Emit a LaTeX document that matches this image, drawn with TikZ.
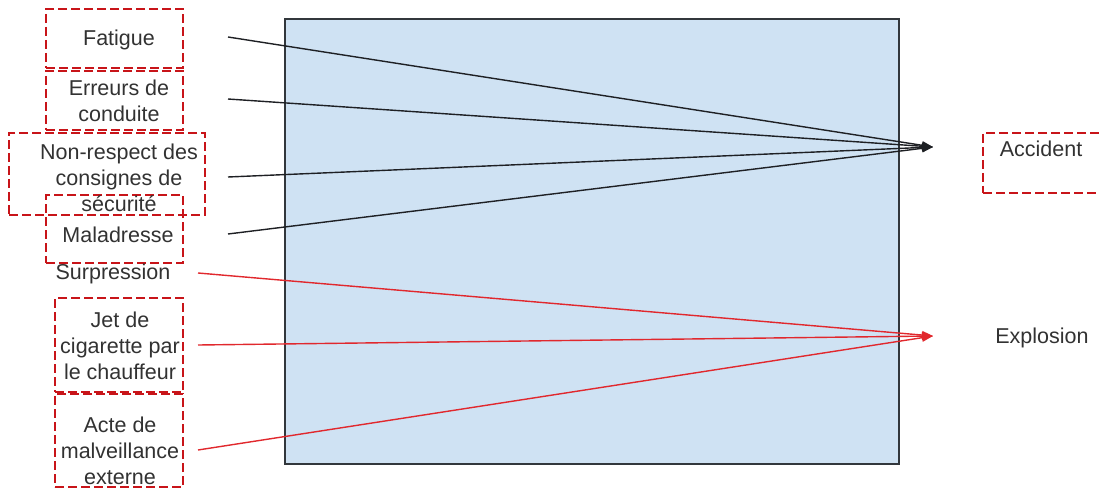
\documentclass[tikz,border=0pt]{standalone}
\usepackage{fontspec}
\setmainfont{Liberation Sans}
\usetikzlibrary{arrows.meta}
\definecolor{boxred}{RGB}{200,20,25}
\definecolor{txtgray}{RGB}{50,50,50}
\definecolor{panelblue}{RGB}{207,226,243}
\definecolor{panelborder}{RGB}{50,55,60}
\definecolor{linkblack}{RGB}{30,32,36}
\definecolor{linkred}{RGB}{225,40,45}
\tikzset{
  x=1pt, y=-1pt,
  dashbox/.style={draw=boxred, line width=2pt, dash pattern=on 9pt off 4pt, inner sep=0pt},
  lbl/.style={text=txtgray, font=\fontsize{21.5pt}{26pt}\selectfont, align=center, inner sep=0pt},
  blacklink/.style={draw=linkblack, line width=1.4pt, -{Triangle[length=11pt,width=8pt]}},
  redlink/.style={draw=linkred, line width=1.4pt, -{Triangle[length=11pt,width=8pt]}},
}
\begin{document}
\begin{tikzpicture}
\useasboundingbox (0,0) rectangle (1099,489);
% panel
\node[draw=panelborder, fill=panelblue, line width=1.5pt, minimum width=614pt, minimum height=445pt, inner sep=0pt] (panel) at (592,241.5) {};
% boxes
\node[dashbox, minimum width=137pt, minimum height=59pt] (fatb) at (114.5,38.5) {};
\node[dashbox, minimum width=137pt, minimum height=59pt] (errb) at (114.5,100.5) {};
\node[dashbox, minimum width=137pt, minimum height=68pt] (malb) at (114.5,229) {};
\node[dashbox, minimum width=196pt, minimum height=82pt] (nonb) at (107,174) {};
\node[dashbox, minimum width=128pt, minimum height=94pt] (jetb) at (119,345) {};
\node[dashbox, minimum width=128pt, minimum height=93pt] (acteb) at (119,440.5) {};
\node[dashbox, minimum width=132pt, minimum height=60pt] (accb) at (1049,163) {};
% texts
\node[lbl] (fat) at (119,40) {Fatigue};
\node[lbl] (err) at (119,101) {Erreurs de\\conduite};
\node[lbl] (non) at (119,178) {Non-respect des\\consignes de\\sécurité};
\node[lbl] (mal) at (118,235) {Maladresse};
\node[lbl] (surp) at (113,274) {Surpression};
\node[lbl] (jet) at (120,346) {Jet de\\cigarette par\\le chauffeur};
\node[lbl] (acte) at (120,451) {Acte de\\malveillance\\externe};
\node[lbl] (acc) at (1041,149) {Accident};
\node[lbl] (exp) at (1042,338) {Explosion};
% connector ends
\coordinate (s1) at (228,37);
\coordinate (s2) at (228,99);
\coordinate (s3) at (228,177);
\coordinate (s4) at (228,234);
\coordinate (r1) at (198,273);
\coordinate (r2) at (198,345);
\coordinate (r3) at (198,450);
\coordinate (ta) at (933,147);
\coordinate (tb) at (933,336);
% connectors
\draw[blacklink] (s1) -- (ta);
\draw[blacklink] (s2) -- (ta);
\draw[blacklink] (s3) -- (ta);
\draw[blacklink] (s4) -- (ta);
\draw[redlink] (r1) -- (tb);
\draw[redlink] (r2) -- (tb);
\draw[redlink] (r3) -- (tb);
\end{tikzpicture}
\end{document}
